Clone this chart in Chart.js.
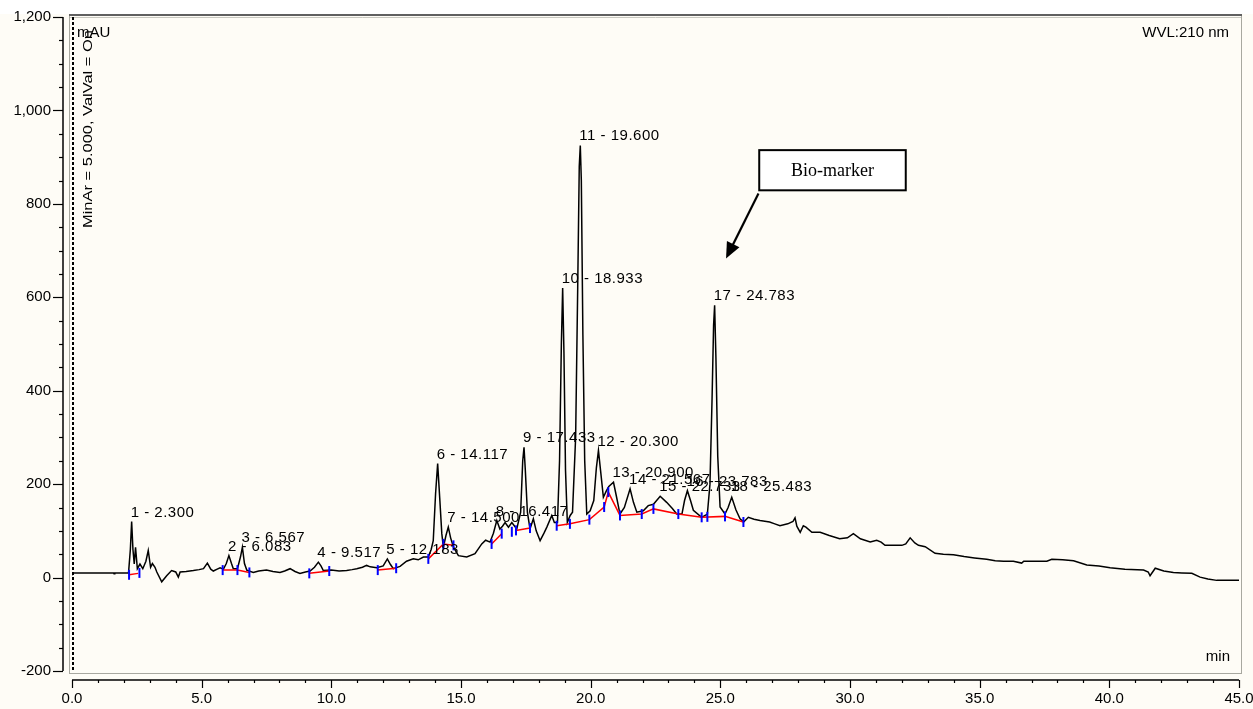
<!DOCTYPE html>
<html>
<head>
<meta charset="utf-8">
<script src="https://cdn.jsdelivr.net/npm/chart.js@4.4.0/dist/chart.umd.min.js"></script>
<style>
  html, body { margin: 0; padding: 0; background: #fff; }
</style>
</head>
<body>
<canvas id="chrom" width="1253" height="709"></canvas>
<script>
// retention time (min) and signal (mAU)
const times = [0.0, 0.05, 1.0, 1.6, 1.62, 1.65, 2.18, 2.25, 2.3, 2.35, 2.4, 2.45, 2.52, 2.62, 2.73, 2.85, 2.94, 3.03, 3.1, 3.2, 3.27, 3.46, 3.65, 3.84, 4.0, 4.1, 4.17, 4.4, 4.68, 4.9, 5.07, 5.22, 5.35, 5.45, 5.6, 5.71, 5.84, 5.95, 6.05, 6.15, 6.22, 6.38, 6.5, 6.57, 6.65, 6.74, 6.99, 7.2, 7.5, 7.75, 8.02, 8.2, 8.41, 8.6, 8.79, 9.0, 9.18, 9.35, 9.5, 9.6, 9.69, 10.0, 10.3, 10.59, 10.8, 10.98, 11.2, 11.36, 11.5, 11.75, 12.0, 12.16, 12.28, 12.39, 12.65, 12.9, 13.16, 13.35, 13.55, 13.74, 13.85, 13.93, 14.02, 14.1, 14.18, 14.26, 14.32, 14.42, 14.51, 14.6, 14.71, 14.9, 15.22, 15.54, 15.8, 15.95, 16.12, 16.25, 16.38, 16.5, 16.6, 16.7, 16.83, 16.96, 17.15, 17.3, 17.38, 17.43, 17.48, 17.56, 17.66, 17.79, 17.9, 18.05, 18.2, 18.31, 18.5, 18.6, 18.72, 18.8, 18.87, 18.92, 18.97, 19.03, 19.1, 19.21, 19.3, 19.42, 19.5, 19.56, 19.6, 19.64, 19.7, 19.77, 19.85, 19.98, 20.12, 20.22, 20.3, 20.38, 20.49, 20.6, 20.7, 20.88, 21.0, 21.13, 21.3, 21.52, 21.65, 21.78, 22.03, 22.22, 22.42, 22.68, 22.93, 23.15, 23.32, 23.52, 23.62, 23.73, 23.85, 23.96, 24.28, 24.5, 24.6, 24.68, 24.74, 24.78, 24.83, 24.9, 24.99, 25.18, 25.3, 25.44, 25.6, 25.76, 25.9, 26.08, 26.3, 26.53, 26.9, 27.1, 27.3, 27.6, 27.8, 27.88, 27.95, 28.08, 28.2, 28.3, 28.53, 28.85, 29.2, 29.6, 29.9, 30.13, 30.4, 30.78, 31.03, 31.2, 31.35, 31.7, 32.0, 32.15, 32.32, 32.5, 32.64, 32.9, 33.28, 33.6, 33.99, 34.4, 34.8, 35.27, 35.6, 35.92, 36.3, 36.62, 36.7, 37.2, 37.59, 37.78, 38.2, 38.62, 39.13, 39.6, 40.03, 40.6, 41.32, 41.5, 41.57, 41.77, 42.1, 42.47, 42.8, 43.18, 43.5, 43.8, 44.14, 45.0];
const signal = [5, 10, 10, 10, 8, 10, 10, 60, 120, 60, 29, 65, 19, 29, 19, 35, 58, 22, 30, 22, 12, -9, 4, 15, 12, 1, 12, 13, 15, 17, 19, 31, 18, 14, 18, 21, 18, 30, 47, 30, 19, 19, 45, 65, 30, 16, 11, 14, 16, 13, 11, 14, 19, 13, 9, 12, 14, 22, 33, 25, 15, 16, 14, 15, 17, 19, 22, 26, 23, 21, 25, 40, 28, 19, 24, 35, 40, 38, 44, 44, 60, 79, 180, 244, 170, 94, 65, 90, 108, 85, 65, 47, 44, 51, 72, 80, 76, 95, 122, 104, 110, 118, 108, 118, 104, 140, 250, 279, 230, 140, 104, 126, 100, 79, 95, 108, 133, 118, 118, 250, 500, 620, 480, 230, 118, 133, 140, 300, 620, 880, 925, 850, 520, 250, 136, 143, 165, 235, 272, 230, 172, 185, 195, 204, 172, 136, 150, 190, 161, 140, 143, 154, 157, 174, 161, 148, 136, 136, 165, 186, 165, 144, 129, 136, 200, 380, 540, 583, 470, 260, 151, 136, 150, 172, 145, 126, 119, 129, 125, 122, 119, 115, 111, 115, 120, 128, 110, 97, 111, 108, 97, 97, 90, 83, 85, 94, 83, 76, 80, 76, 69, 69, 69, 72, 85, 74, 69, 66, 52, 50, 49, 45, 42, 39, 36, 35, 35, 31, 35, 35, 35, 39, 38, 36, 27, 25, 21, 18, 16, 12, 4, 20, 14, 11, 10, 9, 1, -3, -6, -6];

// integration baselines (null = gap between segments)
const baseTimes = [2.2, 2.55, null, 5.81, 6.38, 6.84, null, 9.15, 9.92, null, 11.79, 12.5, null, 13.74, 14.32, 14.71, null, 16.18, 16.57, null, 17.12, 17.66, null, 18.69, 19.2, 19.95, 20.52, 20.68, 21.13, 21.97, 22.42, 23.38, 24.28, 25.18, 25.89];
const baseValues = [6, 9, null, 16, 16, 11, null, 9, 14, null, 16, 20, null, 40, 72, 69, null, 72, 94, null, 101, 106, null, 111, 115, 124, 151, 183, 133, 136, 147, 136, 129, 131, 119];

// peak start / end markers
const cutTimes = [2.2, 2.6, 5.81, 6.38, 6.84, 9.15, 9.92, 11.79, 12.5, 13.74, 14.32, 14.71, 16.18, 16.57, 16.96, 17.12, 17.66, 18.69, 19.2, 19.95, 20.52, 20.68, 21.13, 21.97, 22.42, 23.38, 24.28, 24.5, 25.18, 25.89];
const cutValues = [6, 10, 16, 16, 11, 9, 14, 16, 20, 40, 72, 69, 72, 94, 98, 101, 106, 111, 115, 124, 151, 183, 133, 136, 147, 136, 129, 130, 131, 119];

// peak labels
const peakNames = ['1 - 2.300', '2 - 6.083', '3 - 6.567', '4 - 9.517', '5 - 12.183', '6 - 14.117', '7 - 14.500', '8 - 16.417', '9 - 17.433', '10 - 18.933', '11 - 19.600', '12 - 20.300', '13 - 20.900', '14 - 21.567', '15 - 22.733', '16 - 23.783', '17 - 24.783', '18 - 25.483'];
const peakTimes = [2.3, 6.05, 6.57, 9.5, 12.16, 14.1, 14.51, 16.38, 17.43, 18.92, 19.6, 20.3, 20.88, 21.52, 22.68, 23.73, 24.78, 25.44];
const peakTops = [120, 47, 65, 33, 40, 244, 108, 122, 279, 620, 925, 272, 204, 190, 174, 186, 583, 174];

const yTicks = [1200, 1000, 800, 600, 400, 200, 0, -200];
const xTicks = [0, 5, 10, 15, 20, 25, 30, 35, 40, 45];

const SANS = '"Liberation Sans", Arial, sans-serif';

const chromPlugin = {
  id: 'chrom',
  beforeDraw(chart) {
    const c = chart.ctx;
    c.save();
    c.fillStyle = '#ffffff';
    c.fillRect(0, 0, chart.width, chart.height);
    c.fillStyle = '#fefcf6';
    c.fillRect(0, 14, chart.width, chart.height - 14);
    c.restore();
  },
  afterDraw(chart) {
    const c = chart.ctx;
    const xs = chart.scales.x, ys = chart.scales.y;
    const X = v => xs.getPixelForValue(v);
    const Y = v => ys.getPixelForValue(v);
    c.save();

    // plot frame
    c.strokeStyle = '#a8a8a0';
    c.lineWidth = 1;
    c.strokeRect(69.5, 15.5, 1172, 658);
    c.strokeStyle = '#606060';
    c.lineWidth = 2;
    c.beginPath(); c.moveTo(69, 15); c.lineTo(1242, 15); c.stroke();
    c.strokeStyle = '#c8c8c0';
    c.lineWidth = 1;
    c.beginPath(); c.moveTo(70, 17.5); c.lineTo(1241, 17.5); c.stroke();

    // dashed marker line at t = 0
    c.strokeStyle = '#000';
    c.lineWidth = 2;
    c.setLineDash([3, 2]);
    c.beginPath(); c.moveTo(X(0) + 1, 17); c.lineTo(X(0) + 1, 672); c.stroke();
    c.setLineDash([]);

    // y axis
    const ax = 63;
    c.strokeStyle = '#000';
    c.lineWidth = 1.5;
    c.beginPath(); c.moveTo(ax, Y(1200)); c.lineTo(ax, Y(-200)); c.stroke();
    c.lineWidth = 1.2;
    for (let v = -200; v <= 1200; v += 50) {
      const len = v % 200 === 0 ? 10 : 4;
      c.beginPath(); c.moveTo(ax - len, Math.round(Y(v)) + 0.5); c.lineTo(ax, Math.round(Y(v)) + 0.5); c.stroke();
    }
    c.fillStyle = '#000';
    c.font = '15px ' + SANS;
    c.textAlign = 'right';
    c.textBaseline = 'middle';
    yTicks.forEach(v => c.fillText(v.toLocaleString('en-US'), 51, Y(v)));

    // x axis
    const ay = 680;
    c.lineWidth = 1.5;
    c.beginPath(); c.moveTo(X(0), ay); c.lineTo(X(45), ay); c.stroke();
    c.lineWidth = 1.2;
    for (let t = 0; t <= 45; t += 1) {
      const len = t % 5 === 0 ? 8 : 3;
      c.beginPath(); c.moveTo(Math.round(X(t)) + 0.5, ay); c.lineTo(Math.round(X(t)) + 0.5, ay + len); c.stroke();
    }
    c.textAlign = 'center';
    xTicks.forEach(t => c.fillText(t.toFixed(1), X(t), 699));

    // corner texts
    c.textAlign = 'left';
    c.fillText('mAU', 77, 33);
    c.textAlign = 'right';
    c.fillText('WVL:210 nm', 1229, 33);
    c.fillText('min', 1230, 657);

    // rotated info text
    c.save();
    c.translate(88, 228);
    c.rotate(-Math.PI / 2);
    c.font = '13px ' + SANS;
    c.textAlign = 'left';
    c.textBaseline = 'middle';
    const info = 'MinAr = 5.000, ValVal = On';
    const w = c.measureText(info).width;
    c.scale(198 / w, 1);
    c.fillText(info, 0, 0);
    c.restore();

    // peak labels
    c.font = '15px ' + SANS;
    c.letterSpacing = '0.5px';
    c.textAlign = 'left';
    c.textBaseline = 'alphabetic';
    peakNames.forEach((name, i) => {
      c.fillText(name, X(peakTimes[i]) - 1, Y(peakTops[i]) - 5);
    });
    c.letterSpacing = '0px';

    // Bio-marker callout
    const bx0 = X(26.5), bx1 = X(32.15), by0 = Y(915), by1 = Y(829);
    c.fillStyle = '#ffffff';
    c.fillRect(bx0, by0, bx1 - bx0, by1 - by0);
    c.strokeStyle = '#000';
    c.lineWidth = 2;
    c.strokeRect(bx0, by0, bx1 - bx0, by1 - by0);
    c.fillStyle = '#000';
    c.font = '18px "Liberation Serif", "Times New Roman", serif';
    c.textAlign = 'center';
    c.textBaseline = 'middle';
    c.fillText('Bio-marker', (bx0 + bx1) / 2, (by0 + by1) / 2 + 1);

    const sx = X(26.47), sy = Y(822), ex = X(25.22), ey = Y(683);
    const ang = Math.atan2(ey - sy, ex - sx);
    c.lineWidth = 2.2;
    c.beginPath(); c.moveTo(sx, sy); c.lineTo(ex - 12 * Math.cos(ang), ey - 12 * Math.sin(ang)); c.stroke();
    c.beginPath();
    c.moveTo(ex, ey);
    c.lineTo(ex - 16 * Math.cos(ang) + 7 * Math.sin(ang), ey - 16 * Math.sin(ang) - 7 * Math.cos(ang));
    c.lineTo(ex - 16 * Math.cos(ang) - 7 * Math.sin(ang), ey - 16 * Math.sin(ang) + 7 * Math.cos(ang));
    c.closePath();
    c.fill();

    c.restore();
  }
};

new Chart(document.getElementById('chrom'), {
  type: 'line',
  data: {
    datasets: [
      {
        label: 'cuts',
        data: cutTimes.map((t, i) => ({ x: t, y: cutValues[i] })),
        showLine: false,
        pointStyle: 'line',
        rotation: 90,
        pointRadius: 5,
        pointBorderColor: '#0000ff',
        pointBorderWidth: 2,
        order: 0
      },
      {
        label: 'baseline',
        data: baseTimes.map((t, i) => ({ x: t, y: baseValues[i] })),
        borderColor: '#ff0000',
        borderWidth: 1.5,
        pointRadius: 0,
        spanGaps: false,
        order: 1
      },
      {
        label: 'signal',
        data: times.map((t, i) => ({ x: t, y: signal[i] })),
        borderColor: '#000000',
        borderWidth: 1.5,
        pointRadius: 0,
        tension: 0,
        order: 2
      }
    ]
  },
  options: {
    responsive: false,
    animation: false,
    layout: { padding: { left: 72, top: 17, right: 14, bottom: 38 } },
    scales: {
      x: { type: 'linear', min: 0, max: 45, display: false },
      y: { type: 'linear', min: -200, max: 1200, display: false }
    },
    plugins: {
      legend: { display: false },
      tooltip: { enabled: false }
    }
  },
  plugins: [chromPlugin]
});
</script>
</body>
</html>
